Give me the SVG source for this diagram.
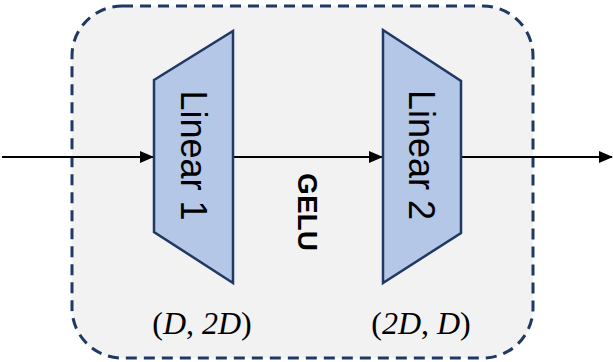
<svg xmlns="http://www.w3.org/2000/svg" width="613" height="362" viewBox="0 0 613 362">
  <defs>
    <marker id="arrow" markerWidth="14" markerHeight="12" refX="13" refY="6" orient="auto" markerUnits="userSpaceOnUse">
      <path d="M0,0 L14,6 L0,12 Z" fill="#000"/>
    </marker>
    <style>
      .box { fill: #f2f2f2; stroke: #1f3864; stroke-width: 3; stroke-dasharray: 11 7; }
      .trap { fill: #b4c7e7; stroke: #1f3864; stroke-width: 2.5; stroke-linejoin: miter; }
      .lbl { font-family: "Liberation Sans", Arial, sans-serif; font-size: 36px; fill: #000; text-anchor: middle; }
      .gelu { font-family: "Liberation Sans", Arial, sans-serif; font-size: 28px; font-weight: bold; fill: #000; text-anchor: middle; }
      .dim { font-family: "Liberation Serif", "Times New Roman", serif; font-size: 32px; fill: #000; text-anchor: middle; }
      .it { font-style: italic; }
      .conn { stroke: #000; stroke-width: 2.2; fill: none; marker-end: url(#arrow); }
    </style>
  </defs>

  <g id="container">
    <rect class="box" x="72" y="6" width="461" height="352" rx="50" ry="50"/>
  </g>

  <g id="connectors">
    <line class="conn" x1="2" y1="157" x2="153" y2="157"/>
    <line class="conn" x1="233" y1="157" x2="382" y2="157"/>
    <line class="conn" x1="461" y1="157" x2="612" y2="157"/>
  </g>

  <g id="linear1">
    <polygon class="trap" points="154,80 233,31 233,283 154,232"/>
    <text class="lbl" transform="translate(181,155.5) rotate(90)">Linear 1</text>
  </g>

  <g id="linear2">
    <polygon class="trap" points="383,30 461,81 461,233 383,283"/>
    <text class="lbl" transform="translate(409,155) rotate(90)">Linear 2</text>
  </g>

  <g id="gelu">
    <text class="gelu" transform="translate(298,212) rotate(90)">GELU</text>
  </g>

  <g id="dims">
    <text class="dim" x="202" y="334">(<tspan class="it">D</tspan>, <tspan class="it">2D</tspan>)</text>
    <text class="dim" x="421" y="334">(<tspan class="it">2D</tspan>, <tspan class="it">D</tspan>)</text>
  </g>
</svg>
